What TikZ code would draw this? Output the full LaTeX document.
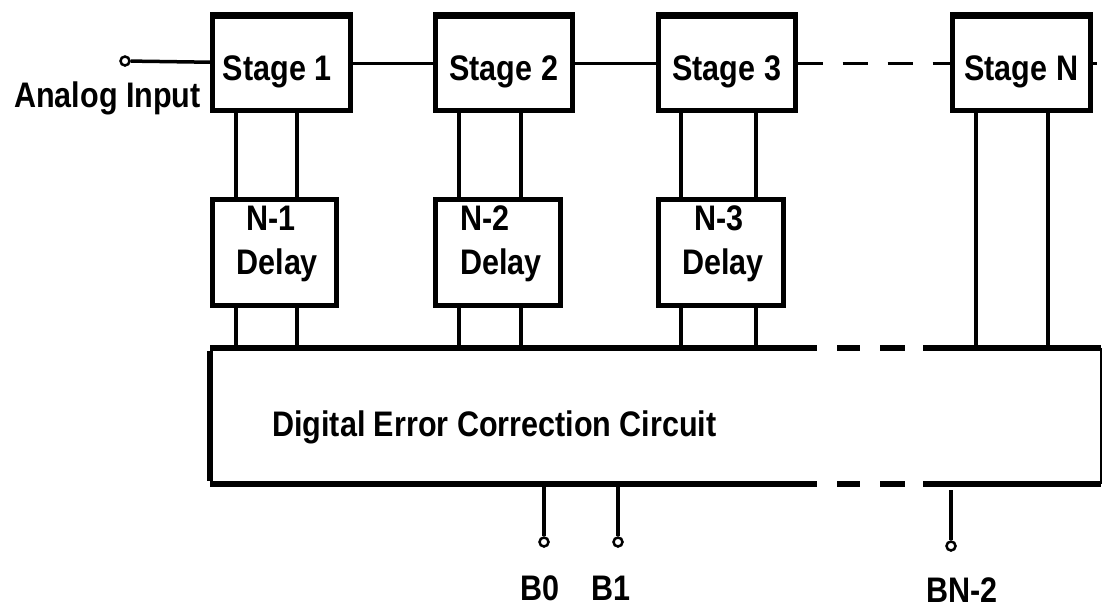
\documentclass[tikz,border=0pt]{standalone}
\usepackage{fontspec}
\setmainfont{Liberation Sans}[FakeStretch=0.86]
\begin{document}
\begin{tikzpicture}[x=1pt,y=-1pt]
\useasboundingbox[fill=white] (0,0) rectangle (1102,608);
\tikzset{
  txt/.style={font=\fontsize{35.5}{42}\selectfont\bfseries, inner sep=0pt},
  stagebox/.style={draw, line width=4.5pt, minimum height=94pt, inner sep=0pt, anchor=north west},
  delaybox/.style={draw, line width=4.5pt, minimum height=106pt, inner sep=0pt, anchor=north west},
  wire/.style={line width=3.5pt},
  topedge/.style={line width=7pt},
  decline/.style={line width=6pt},
  term/.style={circle, draw, fill=white, line width=2.5pt, minimum size=9pt, inner sep=0pt}
}

% pipeline stages
\node[stagebox, minimum width=138pt] (s1) at (210,14) {};
\node[stagebox, minimum width=137pt] (s2) at (433,14) {};
\node[stagebox, minimum width=137pt] (s3) at (656,14) {};
\node[stagebox, minimum width=138pt] (sN) at (950,14) {};
\foreach \s in {s1,s2,s3,sN}
  \draw[topedge] ([yshift=-1pt]\s.north west) -- ([yshift=-1pt]\s.north east);

\node[txt, anchor=base] (s1t) at ([xshift=-4pt,yshift=-17pt]s1.center) {Stage 1};
\node[txt, anchor=base] (s2t) at ([yshift=-17pt]s2.center) {Stage 2};
\node[txt, anchor=base] (s3t) at ([yshift=-17pt]s3.center) {Stage 3};
\node[txt, anchor=base] (sNt) at ([yshift=-17pt]sN.center) {Stage N};

% delay lines
\node[delaybox, minimum width=124pt] (d1) at (210,197) {};
\node[delaybox, minimum width=125pt] (d2) at (433,197) {};
\node[delaybox, minimum width=125pt] (d3) at (656,197) {};

\node[txt, anchor=base] (d1a) at ([xshift=-3pt,yshift=22pt]d1.center) {N-1};
\node[txt, anchor=base] (d1b) at ([xshift=3pt,yshift=-22pt]d1.center) {Delay};
\node[txt, anchor=base] (d2a) at ([xshift=-13pt,yshift=22pt]d2.center) {N-2};
\node[txt, anchor=base] (d2b) at ([xshift=3pt,yshift=-22pt]d2.center) {Delay};
\node[txt, anchor=base] (d3a) at ([xshift=-2pt,yshift=22pt]d3.center) {N-3};
\node[txt, anchor=base] (d3b) at ([xshift=2pt,yshift=-22pt]d3.center) {Delay};

% correction block
\node[minimum width=891pt, minimum height=136pt, inner sep=0pt, anchor=north west] (dec) at (210,348) {};
\coordinate (gapL) at (817,0);
\coordinate (gapR) at (923,0);
\draw[decline] ([yshift=-3pt]dec.north west) -- ([yshift=3pt]dec.south west);
\draw[decline] (dec.north west) -- (gapL |- dec.north);
\draw[decline] (gapR |- dec.north) -- (dec.north east);
\draw[decline] (dec.south west) -- (gapL |- dec.south);
\draw[decline] (gapR |- dec.south) -- (dec.south east);
\foreach \a/\b in {837/860, 880/905} {
  \draw[decline] (\a,348) -- (\b,348);
  \draw[decline] (\a,484) -- (\b,484);
}
\draw[line width=2.5pt] (dec.north east) -- (dec.south east);
\node[txt, anchor=base west] (dect) at ([xshift=62pt,yshift=-20pt]dec.west) {Digital Error Correction Circuit};

% signal path
\node[term] (ain) at (125,61) {};
\node[txt, anchor=base east] (aint) at (201,107) {Analog Input};
\draw[wire] (ain) -- (s1);
\draw[wire] (s1) -- (s2);
\draw[wire] (s2) -- (s3);
\draw[wire, dash pattern=on 25pt off 20pt] (s3) -- (sN);
\draw[wire] (sN.east) -- ++(4,0);

% stage outputs
\coordinate (x1a) at (236,0);  \coordinate (x1b) at (297,0);
\coordinate (x2a) at (459,0);  \coordinate (x2b) at (521,0);
\coordinate (x3a) at (681,0);  \coordinate (x3b) at (756,0);
\coordinate (xNa) at (976,0);  \coordinate (xNb) at (1048,0);
\foreach \x/\s/\d in {x1a/s1/d1, x1b/s1/d1, x2a/s2/d2, x2b/s2/d2, x3a/s3/d3, x3b/s3/d3} {
  \draw[wire] (\x |- \s.south) -- (\x |- \d.north);
  \draw[wire] (\x |- \d.south) -- (\x |- dec.north);
}
\foreach \x in {xNa, xNb}
  \draw[wire] (\x |- sN.south) -- (\x |- dec.north);

% output bits
\node[term] (b0) at (544,542) {};
\node[term] (b1) at (618,542) {};
\node[term] (bn) at (951,546) {};
\draw[wire] (b0.north |- dec.south) -- (b0.north);
\draw[wire] (b1.north |- dec.south) -- (b1.north);
\draw[wire] ([yshift=-6pt]bn.north |- dec.south) -- (bn.north);
\node[txt, anchor=base] (b0t) at (540,600) {B0};
\node[txt, anchor=base] (b1t) at (611,600) {B1};
\node[txt, anchor=base] (bnt) at (962,602) {BN-2};
\end{tikzpicture}
\end{document}
